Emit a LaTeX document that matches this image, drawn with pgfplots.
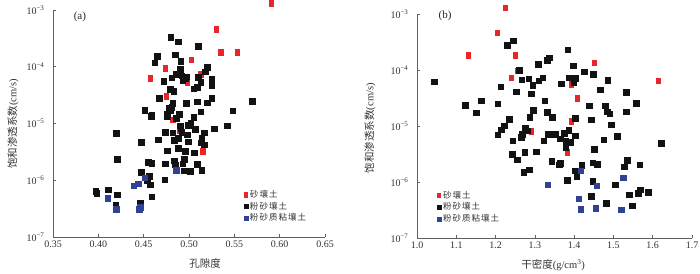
\documentclass[border=0pt]{standalone}
\usepackage{fontspec}
\setmainfont{Liberation Serif}
\newfontfamily\cjk{Noto Sans CJK SC}
\newfontfamily\cjkl{Noto Sans CJK SC}[LetterSpace=12]
\usepackage{pgfplots}
\pgfplotsset{compat=1.18}
\definecolor{myred}{RGB}{232,38,40}
\definecolor{myblk}{RGB}{18,18,18}
\definecolor{myblue}{RGB}{48,66,148}
\definecolor{axgray}{RGB}{95,95,95}
\pgfplotsset{
    scale only axis,
    axis x line=bottom, axis y line=left,
    axis line style={-, axgray, line width=0.8pt},
    tick style={axgray, line width=0.6pt},
    tick align=inside, major tick length=3pt,
    xtick pos=bottom, ytick pos=left,
    clip=false,
    tick label style={font=\fontsize{10}{12}\selectfont, text=black!80},
    yticklabel style={xshift=-5pt},
    label style={font=\fontsize{10.5}{12}\selectfont, text=black!80},
    legend style={draw=none, fill=none, font=\cjkl\fontsize{8.5}{10}\selectfont, text=black!80,
      legend cell align=left, row sep=-1pt, inner sep=1pt},
    legend image code/.code={\draw[#1, mark size=2.1pt] plot coordinates {(2pt,0pt)};},
}
\pgfplotsset{
  redm/.style={only marks, mark=square*, color=myred, mark size=2.8pt, mark options={xscale=0.75}},
  blkm/.style={only marks, mark=square*, color=myblk, mark size=2.8pt},
  blum/.style={only marks, mark=square*, color=myblue, mark size=2.7pt},
}
\begin{document}
\begin{tikzpicture}
\useasboundingbox (0,0) rectangle (700pt,273pt);
% ---------------- (a) ----------------
\begin{axis}[
  ymode=log, ymin=1e-7, ymax=1e-3, yminorticks=false,
  ytick={1e-7,1e-6,1e-5,1e-4,1e-3},
  yticklabels={10\textsuperscript{−7},10\textsuperscript{−6},10\textsuperscript{−5},10\textsuperscript{−4},10\textsuperscript{−3}},
  at={(53pt,36pt)}, anchor=south west, width=272pt, height=227pt,
  xmin=0.35, xmax=0.65, xtick={0.35,0.40,0.45,0.50,0.55,0.60,0.65},
  xticklabel style={/pgf/number format/.cd, fixed, fixed zerofill, precision=2, assume math mode=true},
  xlabel={\cjk 孔隙度},
  xlabel style={at={(axis description cs:0.559,-0.115)}, anchor=center},
  ylabel={{\cjk 饱和渗透系数}(cm/s)},
  ylabel style={at={(axis description cs:-0.147,0.498)}, anchor=center},
  legend style={at={(0.697,0.22)}, anchor=north west},
]
\addplot[redm] coordinates {
(0.591,1.31e-3) (0.530,4.63e-4) (0.535,1.82e-4) (0.553,1.82e-4) (0.502,1.33e-4)
(0.474,9.4e-5) (0.457,6.28e-5) (0.513,7.38e-5) (0.498,5.4e-5) (0.475,3.06e-5)
(0.482,1.16e-5) (0.489,7.5e-6) (0.515,3.25e-6)};
\addlegendentry{砂壤土}
\addplot[blkm] coordinates {
(0.480,3.35e-4) (0.488,2.77e-4) (0.510,2.30e-4) (0.465,1.55e-4) (0.462,1.18e-4)
(0.485,1.63e-4) (0.491,1.26e-4) (0.490,9.1e-5) (0.486,7.4e-5) (0.492,6.97e-5)
(0.497,6.7e-5) (0.493,5.86e-5) (0.496,6.28e-5) (0.481,6.43e-5) (0.472,5.62e-5)
(0.505,4.11e-5) (0.479,4.02e-5) (0.483,3.75e-5) (0.467,2.82e-5) (0.482,2.28e-5)
(0.481,1.94e-5) (0.478,1.86e-5) (0.480,1.73e-5) (0.497,2.28e-5) (0.451,1.70e-5)
(0.459,1.44e-5) (0.476,1.46e-5) (0.489,1.46e-5) (0.520,9.8e-5) (0.518,8.2e-5)
(0.510,6.53e-5) (0.513,5.33e-5) (0.525,6.03e-5) (0.525,4.78e-5) (0.509,4.36e-5)
(0.525,2.79e-5) (0.520,2.31e-5) (0.509,2.43e-5) (0.570,2.5e-5) (0.513,1.62e-5)
(0.548,1.69e-5) (0.458,1.35e-5) (0.476,1.36e-5) (0.486,1.24e-5) (0.420,6.75e-6)
(0.447,4.74e-6) (0.466,5.21e-6) (0.474,7.03e-6) (0.482,6.92e-6) (0.491,8.26e-6)
(0.492,7.03e-6) (0.498,6.3e-6) (0.484,5.14e-6) (0.488,5.51e-6) (0.499,4.8e-6)
(0.476,3.3e-6) (0.488,3.67e-6) (0.496,3.25e-6) (0.421,2.35e-6) (0.455,2.08e-6)
(0.459,2.0e-6) (0.474,1.97e-6) (0.484,2.22e-6) (0.485,1.87e-6) (0.495,2.35e-6)
(0.493,1.95e-6) (0.495,1.48e-6) (0.501,1.46e-6) (0.447,1.37e-6) (0.456,1.19e-6)
(0.454,9.9e-7) (0.457,8.3e-7) (0.473,1.02e-6) (0.397,6.43e-7) (0.398,5.93e-7)
(0.411,6.78e-7) (0.421,5.53e-7) (0.459,5.16e-7) (0.419,3.69e-7) (0.446,3.95e-7)
(0.505,1.29e-5) (0.502,1.04e-5) (0.499,9.45e-6) (0.507,7.94e-6) (0.490,9.08e-6)
(0.517,6.92e-6) (0.514,5.51e-6) (0.513,4.61e-6) (0.517,4.2e-6) (0.528,8.04e-6)
(0.542,9.18e-6) (0.506,3.08e-6) (0.509,1.92e-6) (0.514,1.52e-6)};
\addlegendentry{粉砂壤土}
\addplot[blum] coordinates {
(0.486,1.51e-6) (0.451,1.12e-6) (0.444,8.65e-7) (0.439,7.96e-7) (0.410,4.84e-7)
(0.4195,3.1e-7) (0.445,3.1e-7) (0.446,3.36e-7)};
\addlegendentry{粉砂质粘壤土}
\node[font=\fontsize{11}{13}\selectfont, text=black!85] at (rel axis cs:0.099,0.97) {(a)};
\end{axis}
% ---------------- (b) ----------------
\begin{axis}[
  ymode=log, ymin=1e-7, ymax=1e-3, yminorticks=false,
  ytick={1e-7,1e-6,1e-5,1e-4,1e-3},
  yticklabels={10\textsuperscript{−7},10\textsuperscript{−6},10\textsuperscript{−5},10\textsuperscript{−4},10\textsuperscript{−3}},
  at={(417pt,35pt)}, anchor=south west, width=275pt, height=224pt,
  xmin=1.0, xmax=1.7, xtick={1.0,1.1,1.2,1.3,1.4,1.5,1.6,1.7},
  xticklabel style={/pgf/number format/.cd, fixed, fixed zerofill, precision=1, assume math mode=true},
  xlabel={{\cjk 干密度}(g/cm\textsuperscript{3})},
  xlabel style={at={(axis description cs:0.495,-0.12)}, anchor=center},
  ylabel={{\cjk 饱和渗透系数}(cm/s)},
  ylabel style={at={(axis description cs:-0.171,0.49)}, anchor=center},
  legend style={at={(0.068,0.224)}, anchor=north west},
]
\addplot[redm] coordinates {
(1.225,1.29e-3) (1.205,4.64e-4) (1.131,1.84e-4) (1.250,1.84e-4) (1.255,9.64e-5)
(1.239,7.32e-5) (1.451,1.34e-4) (1.614,6.4e-5) (1.392,5.58e-5) (1.407,3.14e-5)
(1.392,1.21e-5) (1.290,7.98e-6) (1.383,3.43e-6)};
\addlegendentry{砂壤土}
\addplot[blkm] coordinates {
(1.245,3.34e-4) (1.230,2.77e-4) (1.308,1.28e-4) (1.260,1.0e-4) (1.266,6.75e-5)
(1.284,6.94e-5) (1.294,5.36e-5) (1.310,6.4e-5) (1.320,7.32e-5) (1.044,6.14e-5)
(1.213,5.06e-5) (1.252,4.12e-5) (1.291,3.8e-5) (1.164,2.85e-5) (1.122,2.36e-5)
(1.205,2.49e-5) (1.325,2.85e-5) (1.151,1.74e-5) (1.295,1.92e-5) (1.235,1.31e-5)
(1.287,1.42e-5) (1.384,2.31e-4) (1.337,1.66e-4) (1.331,1.51e-4) (1.397,1.2e-4)
(1.425,9.25e-5) (1.448,8.41e-5) (1.386,7.32e-5) (1.402,7.14e-5) (1.399,5.96e-5)
(1.367,5.73e-5) (1.485,6.58e-5) (1.467,4.42e-5) (1.533,4.02e-5) (1.558,2.56e-5)
(1.439,2.32e-5) (1.479,2.29e-5) (1.484,1.81e-5) (1.490,1.65e-5) (1.532,1.81e-5)
(1.332,1.77e-5) (1.344,1.42e-5) (1.403,1.38e-5) (1.443,1.29e-5) (1.222,1.01e-5)
(1.215,8.55e-6) (1.205,6.97e-6) (1.275,9.4e-6) (1.280,8.2e-6) (1.268,7.18e-6)
(1.265,6.24e-6) (1.244,5.45e-6) (1.322,5.45e-6) (1.243,3.16e-6) (1.274,3.43e-6)
(1.303,3.47e-6) (1.255,2.5e-6) (1.272,1.51e-6) (1.286,1.66e-6) (1.494,1.05e-5)
(1.386,8.32e-6) (1.375,7.47e-6) (1.352,7.18e-6) (1.334,7.18e-6) (1.365,5.92e-6)
(1.378,5.3e-6) (1.390,5.16e-6) (1.378,4.21e-6) (1.403,6.69e-6) (1.475,5.68e-6)
(1.510,6.5e-6) (1.622,4.95e-6) (1.451,3.87e-6) (1.343,2.33e-6) (1.365,2.18e-6)
(1.362,2.03e-6) (1.419,1.98e-6) (1.447,2.21e-6) (1.458,2.09e-6) (1.401,1.59e-6)
(1.406,1.26e-6) (1.383,1.07e-6) (1.447,1.03e-6) (1.535,2.47e-6) (1.528,1.87e-6)
(1.567,2.03e-6) (1.505,8.95e-7) (1.568,7.3e-7) (1.563,6.37e-7) (1.589,6.64e-7)
(1.540,5.94e-7) (1.443,5.53e-7) (1.482,4.22e-7) (1.548,3.78e-7)};
\addlegendentry{粉砂壤土}
\addplot[blum] coordinates {
(1.416,1.59e-6) (1.332,9.06e-7) (1.458,8.49e-7) (1.525,1.19e-6) (1.411,5.04e-7)
(1.416,3.25e-7) (1.455,3.38e-7) (1.520,3.17e-7)};
\addlegendentry{粉砂质粘壤土}
\node[font=\fontsize{11}{13}\selectfont, text=black!85] at (rel axis cs:0.102,0.99) {(b)};
\end{axis}
\end{tikzpicture}
\end{document}
